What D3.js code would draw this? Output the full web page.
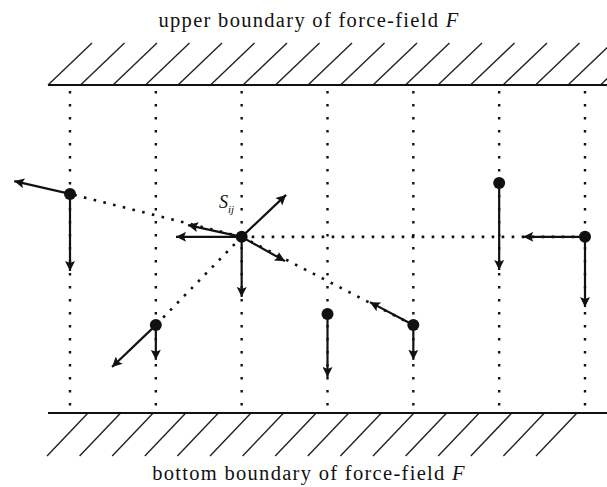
<!DOCTYPE html>
<html>
<head>
<meta charset="utf-8">
<script src="https://cdn.jsdelivr.net/npm/d3@7"></script>
<style>
  body { margin: 0; background: #fff; }
  text { font-family: "Liberation Serif", "Times New Roman", serif; fill: #111; }
</style>
</head>
<body>
<div id="chart"></div>
<script>
// Columns (grid index) and node positions, y measured from upper boundary (0) to bottom boundary (10)
var columns = [0, 1, 2, 3, 4, 5, 6];
var nodeNames = ["A", "S", "B", "C", "D", "E", "G"];
var nodeCol = [0, 2, 1, 3, 4, 5, 6];
var nodeY = [3.32, 4.63, 7.32, 6.98, 7.32, 2.99, 4.63];

// Force arrows: from node, to point (col, y)
var arrowFrom = ["A", "A", "S", "S", "S", "S", "S", "B", "B", "C", "D", "D", "E", "G", "G"];
var arrowToCol = [0, -0.65, 1.235, 1.375, 2.517, 2.505, 2, 1, 0.49, 3, 4, 3.495, 5, 5.28, 6];
var arrowToY = [5.67, 2.93, 4.63, 4.27, 3.35, 5.37, 6.46, 8.38, 8.6, 8.9, 8.38, 6.62, 5.64, 4.63, 6.77];

// Dotted links between S and its neighbours
var linkTo = ["A", "B", "D", "G"];

var width = 607, height = 487;

var svg = d3.select("#chart").append("svg")
    .attr("width", width)
    .attr("height", height);

var x = d3.scaleLinear().domain([0, 6]).range([70, 585]);
var y = d3.scaleLinear().domain([0, 10]).range([85, 413]);

var defs = svg.append("defs");
defs.append("marker")
    .attr("id", "head")
    .attr("viewBox", "0 0 10 10")
    .attr("refX", 10)
    .attr("refY", 5)
    .attr("markerUnits", "userSpaceOnUse")
    .attr("markerWidth", 13)
    .attr("markerHeight", 10)
    .attr("orient", "auto")
  .append("path")
    .attr("d", "M0,0 L10,5 L0,10 L2,5 Z")
    .attr("fill", "#111");

// hatching on the boundaries
var topHatch = d3.range(0, 18).map(k => 48 + k * 32.5);
svg.append("g").selectAll("line")
    .data(topHatch)
    .enter().append("line")
    .attr("x1", d => d).attr("y1", y(0))
    .attr("x2", d => d + 44).attr("y2", y(0) - 42)
    .attr("stroke", "#222").attr("stroke-width", 1.4);

var bottomHatch = d3.range(0, 16).map(k => 88 + k * 32.6);
svg.append("g").selectAll("line")
    .data(bottomHatch)
    .enter().append("line")
    .attr("x1", d => d).attr("y1", y(10))
    .attr("x2", d => d - 41).attr("y2", y(10) + 43)
    .attr("stroke", "#222").attr("stroke-width", 1.4);

// boundary lines
svg.append("g").selectAll("line")
    .data([0, 10])
    .enter().append("line")
    .attr("x1", 48).attr("x2", width)
    .attr("y1", d => y(d)).attr("y2", d => y(d))
    .attr("stroke", "#111").attr("stroke-width", 2);

// vertical dotted grid
svg.append("g").selectAll("line")
    .data(columns)
    .enter().append("line")
    .attr("x1", d => x(d)).attr("x2", d => x(d))
    .attr("y1", y(0) + 6).attr("y2", y(10) - 2)
    .attr("stroke", "#111").attr("stroke-width", 2.4)
    .attr("stroke-dasharray", "2.4,10.6");

function node(name) {
    var i = nodeNames.indexOf(name);
    return { c: nodeCol[i], y: nodeY[i] };
}

// dotted links from S
var s = node("S");
svg.append("g").selectAll("line")
    .data(linkTo)
    .enter().append("line")
    .attr("x1", x(s.c)).attr("y1", y(s.y))
    .attr("x2", d => x(node(d).c)).attr("y2", d => y(node(d).y))
    .attr("stroke", "#111").attr("stroke-width", 2.6)
    .attr("stroke-dasharray", "2.6,7.4");

// force arrows
svg.append("g").selectAll("line")
    .data(arrowFrom.map((f, i) => ({ from: node(f), c: arrowToCol[i], y: arrowToY[i] })))
    .enter().append("line")
    .attr("x1", d => x(d.from.c)).attr("y1", d => y(d.from.y))
    .attr("x2", d => x(d.c)).attr("y2", d => y(d.y))
    .attr("stroke", "#111").attr("stroke-width", 2.2)
    .attr("marker-end", "url(#head)");

// nodes
svg.append("g").selectAll("circle")
    .data(nodeNames)
    .enter().append("circle")
    .attr("cx", d => x(node(d).c))
    .attr("cy", d => y(node(d).y))
    .attr("r", 6)
    .attr("fill", "#111");

// label of S_ij
var lab = svg.append("text")
    .attr("x", 219).attr("y", 208)
    .style("font-size", "18px")
    .style("font-style", "italic");
lab.append("tspan").text("S");
lab.append("tspan").attr("dy", 5).style("font-size", "11px").text("ij");

// boundary titles
var titles = ["upper boundary of force-field ", "bottom boundary of force-field "];
var titleY = [27, 480];
titles.forEach(function(t, i) {
    var tx = svg.append("text")
        .attr("x", 309).attr("y", titleY[i])
        .attr("text-anchor", "middle")
        .style("font-size", "20.5px")
        .style("letter-spacing", "1.3px");
    tx.append("tspan").text(t);
    tx.append("tspan").style("font-style", "italic").text("F");
});
</script>
</body>
</html>
